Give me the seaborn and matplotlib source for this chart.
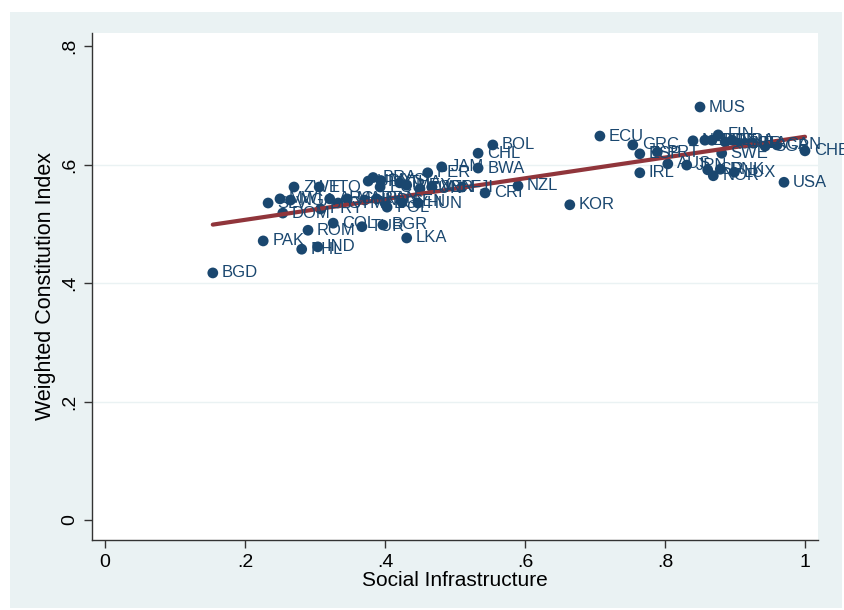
import matplotlib
matplotlib.use("Agg")
import matplotlib.pyplot as plt
import seaborn as sns
import pandas as pd
from matplotlib import font_manager
from matplotlib.patches import Rectangle

# ---- data ----
countries = ["BGD", "PAK", "PHL", "IND", "ROM", "COL", "TUR", "BGR", "LKA", "POL",
             "HUN", "DOM", "PRY", "ZWE", "TTO", "SLV", "MWI", "NGA", "ARG", "GTM",
             "MAR", "BRA", "URY", "MYS", "THA", "ECU2", "MEX", "TUN", "JOR", "HND",
             "PAN", "EGY", "SEN", "PER", "JAM", "VEN", "FJI", "BWA", "CHL", "BOL",
             "CRI", "NZL", "KOR", "ECU", "GRC", "ESP", "PRT", "IRL", "AUS", "JPN",
             "MUS", "NLD", "AUT", "BEL", "FIN", "DEU", "FRA", "GBR", "ISL", "ITA",
             "SGP", "CAN", "CHE", "SWE", "ISR", "NOR", "DNK", "LUX", "USA"]
social_infra = [0.154, 0.226, 0.281, 0.304, 0.290, 0.326, 0.367, 0.397, 0.431, 0.403,
                0.447, 0.254, 0.308, 0.270, 0.306, 0.233, 0.250, 0.265, 0.321, 0.333,
                0.346, 0.383, 0.376, 0.394, 0.421, 0.393, 0.431, 0.450, 0.467, 0.371,
                0.388, 0.400, 0.424, 0.461, 0.481, 0.467, 0.510, 0.533, 0.533, 0.554,
                0.543, 0.590, 0.664, 0.707, 0.754, 0.764, 0.789, 0.764, 0.804, 0.831,
                0.850, 0.840, 0.857, 0.867, 0.876, 0.886, 0.896, 0.903, 0.914, 0.926,
                0.943, 0.960, 1.000, 0.881, 0.861, 0.869, 0.879, 0.899, 0.970]
constitution = [0.417, 0.471, 0.457, 0.461, 0.489, 0.501, 0.495, 0.498, 0.476, 0.528,
                0.535, 0.518, 0.525, 0.562, 0.562, 0.535, 0.542, 0.540, 0.542, 0.535,
                0.542, 0.578, 0.572, 0.573, 0.569, 0.562, 0.565, 0.559, 0.562, 0.540,
                0.542, 0.535, 0.537, 0.586, 0.596, 0.562, 0.562, 0.594, 0.619, 0.633,
                0.552, 0.564, 0.532, 0.648, 0.633, 0.618, 0.621, 0.586, 0.601, 0.599,
                0.697, 0.640, 0.641, 0.641, 0.650, 0.638, 0.641, 0.636, 0.636, 0.636,
                0.631, 0.633, 0.623, 0.619, 0.591, 0.581, 0.592, 0.587, 0.570]
display_names = [c[:3] for c in countries]

x_ticks = [0, 0.2, 0.4, 0.6, 0.8, 1.0]
x_ticklabels = ["0", ".2", ".4", ".6", ".8", "1"]
y_ticks = [0, 0.2, 0.4, 0.6, 0.8]
y_ticklabels = ["0", ".2", ".4", ".6", ".8"]

df = pd.DataFrame({"country": display_names, "si": social_infra, "wci": constitution})

# ---- style ----
NAVY = "#1A476F"
MAROON = "#90353B"
BG = "#EAF2F3"
names = {f.name for f in font_manager.fontManager.ttflist}
main_font = "Liberation Sans" if "Liberation Sans" in names else "DejaVu Sans"
narrow_font = "Liberation Sans Narrow" if "Liberation Sans Narrow" in names else main_font

sns.set_theme(style="white")
plt.rcParams["font.family"] = [main_font, "DejaVu Sans"]

W, H = 844, 610
fig = plt.figure(figsize=(W / 100, H / 100), dpi=100)
fig.patch.set_facecolor("white")
bg_rect = Rectangle((10 / W, 1 - 608 / H), 832 / W, 596 / H,
                    transform=fig.transFigure, facecolor=BG,
                    edgecolor="none", zorder=-10)
fig.add_artist(bg_rect)

ax = fig.add_axes([92 / W, 1 - 540 / H, (818 - 92) / W, (540 - 33) / H])
ax.set_zorder(5)
ax.set_facecolor("white")

# gridlines
for yv in y_ticks[1:-1]:
    ax.axhline(yv, color=BG, lw=1.0, zorder=0)

sns.scatterplot(data=df, x="si", y="wci", ax=ax, color=NAVY, s=60,
                edgecolor="none", linewidth=0, zorder=3, legend=False)
sns.regplot(data=df, x="si", y="wci", ax=ax, scatter=False, ci=None,
            truncate=True, line_kws={"color": MAROON, "lw": 3.0, "zorder": 4})

for _, r in df.iterrows():
    ax.annotate(r["country"], (r["si"], r["wci"]), xytext=(6.5, 0),
                textcoords="offset points", va="center", ha="left",
                fontsize=12, color=NAVY, family=[main_font, "DejaVu Sans"],
                zorder=5, annotation_clip=False)

ax.set_xlim(-13 / 700, 1 + 13 / 700)
ax.set_ylim(-20 / 592.5, 0.8 + 13 / 592.5)

for s in ["top", "right"]:
    ax.spines[s].set_visible(False)
for s in ["left", "bottom"]:
    ax.spines[s].set_visible(True)
    ax.spines[s].set_color("#333333")
    ax.spines[s].set_linewidth(1.0)

ax.set_xticks(x_ticks)
ax.set_xticklabels(x_ticklabels, family=[narrow_font, "DejaVu Sans"], fontsize=14)
ax.set_yticks(y_ticks)
ax.set_yticklabels(y_ticklabels, rotation=90, va="center",
                   family=[main_font, "DejaVu Sans"], fontsize=14)
ax.tick_params(axis="both", which="both", direction="out", length=6, width=1,
               color="#333333", labelcolor="black", bottom=True, left=True, pad=4)

ax.set_xlabel("Social Infrastructure", family=[narrow_font, "DejaVu Sans"],
              fontsize=15, color="black", labelpad=0)
ax.set_ylabel("Weighted Constitution Index", family=[main_font, "DejaVu Sans"],
              fontsize=15.5, color="black", labelpad=4)
ax.grid(False)

fig.savefig("out.png", dpi=100, facecolor="white")
